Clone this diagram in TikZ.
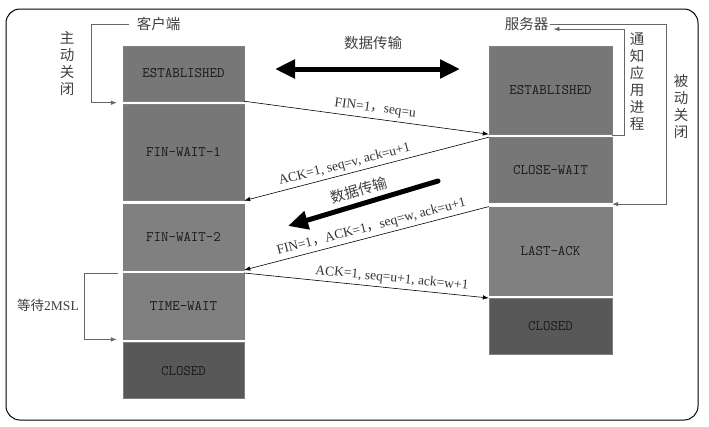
\documentclass[tikz,border=0pt]{standalone}
\usepackage{fontspec}
\setmainfont{Liberation Serif}
\newfontfamily\cjk{Noto Sans CJK SC}
\usetikzlibrary{arrows.meta,positioning}

\definecolor{estgray}{RGB}{119,119,119}
\definecolor{waitgray}{RGB}{128,128,128}
\definecolor{closegray}{RGB}{88,88,88}

\begin{document}
\begin{tikzpicture}[x=1bp, y=-1bp, >={Latex[length=6bp,width=4.5bp]}, ->,
    state/.style={-, rectangle, fill=#1, draw=black!50, line width=0.4bp,
      minimum width=121bp, inner sep=0pt, text=black!90,
      font=\ttfamily\fontsize{14.5bp}{16bp}\selectfont},
    lbl/.style={inner sep=2bp, text=black!75, font=\cjk\fontsize{14.5bp}{17bp}\selectfont},
    vlbl/.style={lbl, align=center},
    msg/.style={line width=0.6bp},
    note/.style={font=\fontsize{13.5bp}{15bp}\selectfont, text=black!80, inner sep=0pt},
    conn/.style={line width=0.6bp, draw=black!60},
    bigarrow/.style={line width=5bp, >={Triangle[length=20bp,width=18bp]}}]

    \useasboundingbox (0,0) rectangle (709,426);
    \draw[-, line width=1bp, rounded corners=14bp] (6,9) rectangle (698,420);

    \node[state=estgray, minimum height=55bp] (cest) at (183.5,73.5) {ESTABLISHED};
    \node[state=estgray, minimum height=96bp, below=3bp of cest] (fw1) {FIN-WAIT-1};
    \node[state=waitgray, minimum height=66bp, below=3bp of fw1] (fw2) {FIN-WAIT-2};
    \node[state=waitgray, minimum height=66bp, below=3bp of fw2] (tw) {TIME-WAIT};
    \node[state=closegray, minimum height=56bp, below=3bp of tw] (cclosed) {CLOSED};

    \node[state=estgray, minimum width=123bp, minimum height=88bp] (sest) at (550.5,90) {ESTABLISHED};
    \node[state=estgray, minimum width=123bp, minimum height=65bp, below=3bp of sest] (cw) {CLOSE-WAIT};
    \node[state=waitgray, minimum width=123bp, minimum height=88bp, below=4bp of cw] (la) {LAST-ACK};
    \node[state=closegray, minimum width=123bp, minimum height=56bp, below=3bp of la] (sclosed) {CLOSED};

    \node[lbl] (khd) at (158.5,24) {客户端};
    \node[lbl] (fwq) at (526.5,24) {服务器};
    \node[lbl] (top) at (373,43) {数据传输};
    \node[vlbl] (zdgb) at (67,64) {主\\动\\关\\闭};
    \node[vlbl] (tzjc) at (637,82) {通\\知\\应\\用\\进\\程};
    \node[vlbl] (bdgb) at (681,106) {被\\动\\关\\闭};
    \node[lbl, font=\cjk\fontsize{13.5bp}{15bp}\selectfont] (wait) at (48,305) {等待{\rmfamily 2MSL}};

    \coordinate (dl) at (275,69);
    \coordinate (dr) at (460,69);
    \draw[bigarrow, <->] (dl) -- (dr);

    \coordinate (mr) at (438,181);
    \coordinate (ml) at (288,226);
    \draw[bigarrow, line cap=round, <-] (ml) -- (mr)
      node[midway, sloped, above=5bp, lbl, inner sep=0pt] (mid) {数据传输};

    \draw[msg] (cest.south east) -- (sest.south west)
      node[pos=0.53, sloped, above=4bp, note] {FIN=1{\cjk ，}seq=u};
    \draw[msg, <-] (fw1.south east) -- (cw.north west)
      node[pos=0.42, sloped, above=3bp, note] {ACK=1, seq=v, ack=u+1};
    \draw[msg, <-] (fw2.south east) -- (la.north west)
      node[pos=0.53, sloped, above=3bp, note] {FIN=1{\cjk ，}ACK=1{\cjk ，}seq=w, ack=u+1};
    \draw[msg] (tw.north east) -- (sclosed.north west)
      node[pos=0.6, sloped, above=3bp, note] {ACK=1, seq=u+1, ack=w+1};

    \draw[conn] ([xshift=-6bp]khd.west) -- ++(-37,0) |- ([xshift=-6bp, yshift=-1.5bp]cest.south west);
    \draw[conn] (fwq.east) -- ++(116,0) |- ([yshift=-1.5bp]cw.south east);
    \draw[conn] ([yshift=-1.5bp]sest.south east) -- ++(12,0) |- ([xshift=3bp, yshift=-5bp]fwq.east);
    \draw[conn] ([xshift=-5bp]tw.north west) -- ++(-34,0) |- ([xshift=-6bp]tw.south west);
\end{tikzpicture}
\end{document}
